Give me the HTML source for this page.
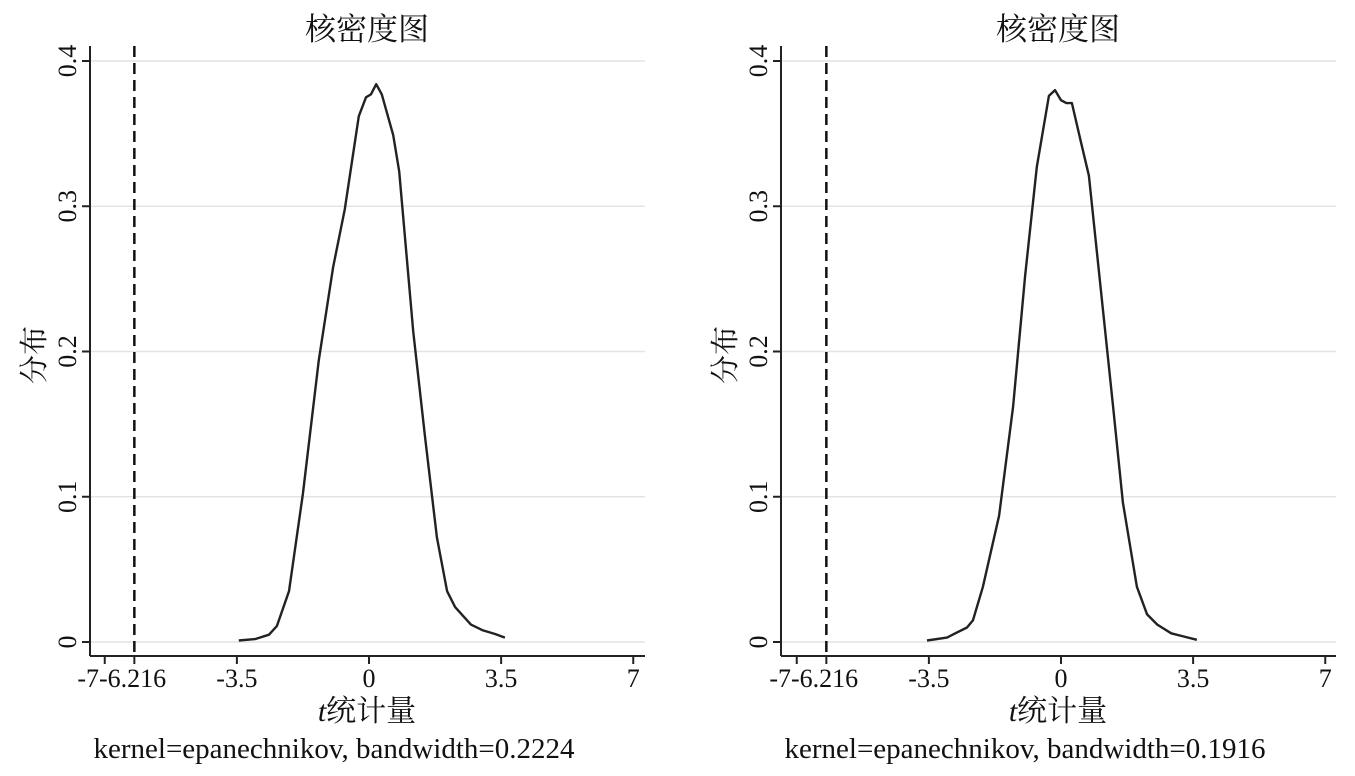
<!DOCTYPE html>
<html><head><meta charset="utf-8"><style>
body{margin:0;background:#fff}
svg text{font-family:"Liberation Serif","Noto Serif CJK SC",serif;fill:#111}
</style></head><body>
<svg id="chart" width="1355" height="771" viewBox="0 0 1355 771" xmlns="http://www.w3.org/2000/svg"></svg>
<script>
const xTicks=[-7,-6.216,-3.5,0,3.5,7];
const yTicks=[0,0.1,0.2,0.3,0.4];
const critValue=-6.216;
const leftX=[-3.45,-3.02,-2.65,-2.44,-2.12,-1.75,-1.33,-0.95,-0.64,-0.27,-0.08,0.05,0.19,0.34,0.64,0.8,1.17,1.48,1.8,2.07,2.28,2.7,3.02,3.34,3.6];
const leftY=[0.001,0.002,0.005,0.011,0.035,0.102,0.194,0.258,0.298,0.362,0.375,0.377,0.384,0.377,0.349,0.324,0.214,0.142,0.072,0.035,0.024,0.012,0.008,0.0055,0.003];
const rightX=[-3.55,-3.02,-2.8,-2.49,-2.33,-2.07,-1.64,-1.27,-0.95,-0.64,-0.32,-0.16,0,0.14,0.29,0.53,0.74,1.11,1.38,1.64,2.01,2.28,2.55,2.92,3.29,3.6];
const rightY=[0.001,0.003,0.006,0.01,0.015,0.038,0.087,0.162,0.252,0.327,0.376,0.38,0.373,0.371,0.371,0.344,0.321,0.229,0.162,0.096,0.038,0.019,0.012,0.006,0.0035,0.0015];
const panelTitles=["核密度图","核密度图"];
const notes=["kernel=epanechnikov, bandwidth=0.2224","kernel=epanechnikov, bandwidth=0.1916"];

const svg=document.getElementById('chart');
const NS='http://www.w3.org/2000/svg';
function mk(tag,attrs,parent){const e=document.createElementNS(NS,tag);for(const k in attrs)e.setAttribute(k,attrs[k]);(parent||svg).appendChild(e);return e;}

function drawPanel(idx,axisLeft,zeroX,xs,ys){
  const unit=37.75;
  const sx=v=>zeroX+v*unit;
  const y0=642,y4=61;
  const sy=v=>y0+(y4-y0)*v/0.4;
  const axisRight=axisLeft+555, axisBottom=656;
  const g=mk('g',{});
  
  
  yTicks.forEach(t=>{
    const l=mk('line',{x1:axisLeft,x2:axisRight,y1:sy(t),y2:sy(t),stroke:'#e4e4e4','stroke-width':1.5},g);
    
    
    const tk=mk('line',{x1:axisLeft-8,x2:axisLeft,y1:sy(t),y2:sy(t),stroke:'#222','stroke-width':2},g);
    
    
    const tx=mk('text',{x:0,y:0,'font-size':26,'text-anchor':'middle',transform:`translate(${axisLeft-14},${sy(t)}) rotate(-90)`},g);
    tx.textContent=String(t);
    
    
  });
  const ya=mk('line',{x1:axisLeft,x2:axisLeft,y1:46,y2:axisBottom,stroke:'#222','stroke-width':2},g);
  
  
  const xa=mk('line',{x1:axisLeft,x2:axisRight,y1:axisBottom,y2:axisBottom,stroke:'#222','stroke-width':2},g);
  
  
  xTicks.forEach(t=>{
    const tk=mk('line',{x1:sx(t),x2:sx(t),y1:axisBottom,y2:axisBottom+8,stroke:'#222','stroke-width':2},g);
    
    
  });
  const labelTxt=mk('text',{x:sx(-6.55),y:687,'font-size':26,'text-anchor':'middle'},g);
  labelTxt.textContent='-7-6.216';
  
  
  xTicks.slice(2).forEach(t=>{
    const tx=mk('text',{x:sx(t),y:687,'font-size':26,'text-anchor':'middle'},g);
    tx.textContent=String(t);
    
    
  });
  const dl=mk('line',{x1:sx(critValue),x2:sx(critValue),y1:46,y2:axisBottom,stroke:'#111','stroke-width':2.5,'stroke-dasharray':'11,6'},g);
  
  
  const d=xs.map((v,i)=>(i?'L':'M')+sx(v).toFixed(1)+','+sy(ys[i]).toFixed(1)).join(' ');
  const p=mk('path',{d:d,fill:'none',stroke:'#222','stroke-width':2.4,'stroke-linejoin':'round'},g);
  
  
  const cx=axisLeft+277;
  const ti=mk('text',{x:cx,y:40,'font-size':31,'text-anchor':'middle'},g);
  ti.textContent=panelTitles[idx];
  
  
  const xl=mk('text',{x:cx,y:721,'font-size':30,'text-anchor':'middle'},g);
  xl.innerHTML='<tspan font-style="italic">t</tspan>统计量';
  
  
  const yl=mk('text',{x:0,y:0,'font-size':29,'text-anchor':'middle',transform:`translate(${axisLeft-46},355) rotate(-90)`},g);
  yl.textContent='分布';
  
  
  const nt=mk('text',{x:cx-33,y:758,'font-size':29,'text-anchor':'middle'},g);
  nt.textContent=notes[idx];
  
  
}
drawPanel(0,90,369,leftX,leftY);
drawPanel(1,781,1061,rightX,rightY);
</script>
</body></html>
